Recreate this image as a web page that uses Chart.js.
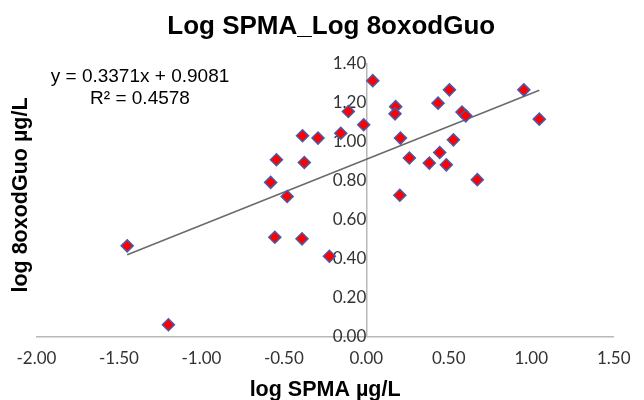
<!DOCTYPE html>
<html>
<head>
<meta charset="utf-8">
<script src="https://cdn.jsdelivr.net/npm/chart.js@4"></script>
<style>
  html, body { margin: 0; padding: 0; background: #fff; }
  #wrap { width: 644px; height: 400px; }
</style>
</head>
<body>
<div id="wrap"><canvas id="chart"></canvas></div>
<script>
// log SPMA (x) and log 8oxodGuo (y)
const logSpma = [
  -1.45, -1.20, -0.58, -0.545, -0.48, -0.555, -0.387, -0.376, -0.39, -0.293,
  -0.224, -0.155, -0.109, -0.016, 0.039, 0.178, 0.174, 0.207, 0.203, 0.261,
  0.382, 0.435, 0.445, 0.485, 0.504, 0.528, 0.58, 0.603, 0.673, 0.955, 1.049
];
const log8oxo = [
  0.465, 0.061, 0.79, 0.906, 0.718, 0.509, 1.029, 0.892, 0.501, 1.017,
  0.412, 1.042, 1.153, 1.085, 1.311, 1.178, 1.141, 1.017, 0.724, 0.915,
  0.889, 1.196, 0.943, 0.88, 1.264, 1.008, 1.15, 1.131, 0.804, 1.264, 1.114
];

// trendline as printed on the chart
const slope = 0.3371;
const intercept = 0.9081;
const eqLines = ["y = 0.3371x + 0.9081", "R² = 0.4578"];

const xTicks = [-2, -1.5, -1, -0.5, 0, 0.5, 1, 1.5];
const yTicks = [0, 0.2, 0.4, 0.6, 0.8, 1.0, 1.2, 1.4];

const points = logSpma.map((x, i) => ({ x: x, y: log8oxo[i] }));
const xMin = Math.min(...logSpma);
const xMax = Math.max(...logSpma);
const trend = [
  { x: xMin, y: slope * xMin + intercept },
  { x: xMax, y: slope * xMax + intercept }
];

// y title and equation are drawn by hand since the y axis sits at x = 0
const extraText = {
  id: "extraText",
  afterDraw(chart) {
    const ctx = chart.ctx;
    ctx.save();
    ctx.fillStyle = "#000";
    ctx.textAlign = "center";
    ctx.textBaseline = "middle";
    ctx.font = "19px 'Liberation Sans', Arial, sans-serif";
    ctx.fillText(eqLines[0], 140, 77);
    ctx.fillText(eqLines[1], 140, 99);

    ctx.translate(21, 195);
    ctx.rotate(-Math.PI / 2);
    ctx.font = "bold 21.5px 'Liberation Sans', Arial, sans-serif";
    ctx.fillText("log 8oxodGuo µg/L", 0, 0);
    ctx.restore();
  }
};

new Chart(document.getElementById("chart"), {
  type: "scatter",
  data: {
    datasets: [
      {
        label: "data",
        data: points,
        pointStyle: "rectRot",
        pointRadius: 6,
        pointBackgroundColor: "#ff0000",
        pointBorderColor: "#4a5aa8",
        pointBorderWidth: 1.5,
        order: 1
      },
      {
        type: "line",
        label: "trend",
        data: trend,
        borderColor: "#6a6a6a",
        borderWidth: 1.5,
        pointRadius: 0,
        fill: false,
        order: 2
      }
    ]
  },
  options: {
    responsive: true,
    maintainAspectRatio: false,
    animation: false,
    layout: { padding: { left: 36.5, right: 18, top: 0, bottom: 0 } },
    plugins: {
      legend: { display: false },
      tooltip: { enabled: false },
      title: {
        display: true,
        text: "Log SPMA_Log 8oxodGuo",
        color: "#000",
        font: { family: "'Liberation Sans', Arial, sans-serif", size: 26, weight: "bold" },
        padding: { top: 11.5, bottom: 20.6 }
      }
    },
    scales: {
      x: {
        type: "linear",
        position: "bottom",
        min: xTicks[0],
        max: xTicks[xTicks.length - 1],
        afterBuildTicks: (axis) => { axis.ticks = xTicks.map(v => ({ value: v })); },
        grid: { display: false, drawTicks: false, tickLength: 0 },
        border: { display: true, color: "#b8b8b8", width: 1.5 },
        ticks: {
          color: "#333",
          padding: 13.5,
          maxRotation: 0,
          font: { family: "Lato, sans-serif", size: 17, lineHeight: 1 },
          callback: (v) => Number(v).toFixed(2)
        },
        title: {
          display: true,
          text: "log SPMA µg/L",
          color: "#000",
          padding: { top: 0, bottom: 0 },
          font: { family: "'Liberation Sans', Arial, sans-serif", size: 21.5, weight: "bold", lineHeight: 0.9 }
        }
      },
      y: {
        type: "linear",
        position: { x: 0 },
        min: yTicks[0],
        max: yTicks[yTicks.length - 1],
        afterBuildTicks: (axis) => { axis.ticks = yTicks.map(v => ({ value: v })); },
        grid: { display: false, drawTicks: false, tickLength: 0 },
        border: { display: true, color: "#b8b8b8", width: 1.5 },
        ticks: {
          color: "#333",
          padding: 17,
          font: { family: "Lato, sans-serif", size: 17 },
          callback: (v) => Number(v).toFixed(2)
        }
      }
    }
  },
  plugins: [extraText]
});
</script>
</body>
</html>
